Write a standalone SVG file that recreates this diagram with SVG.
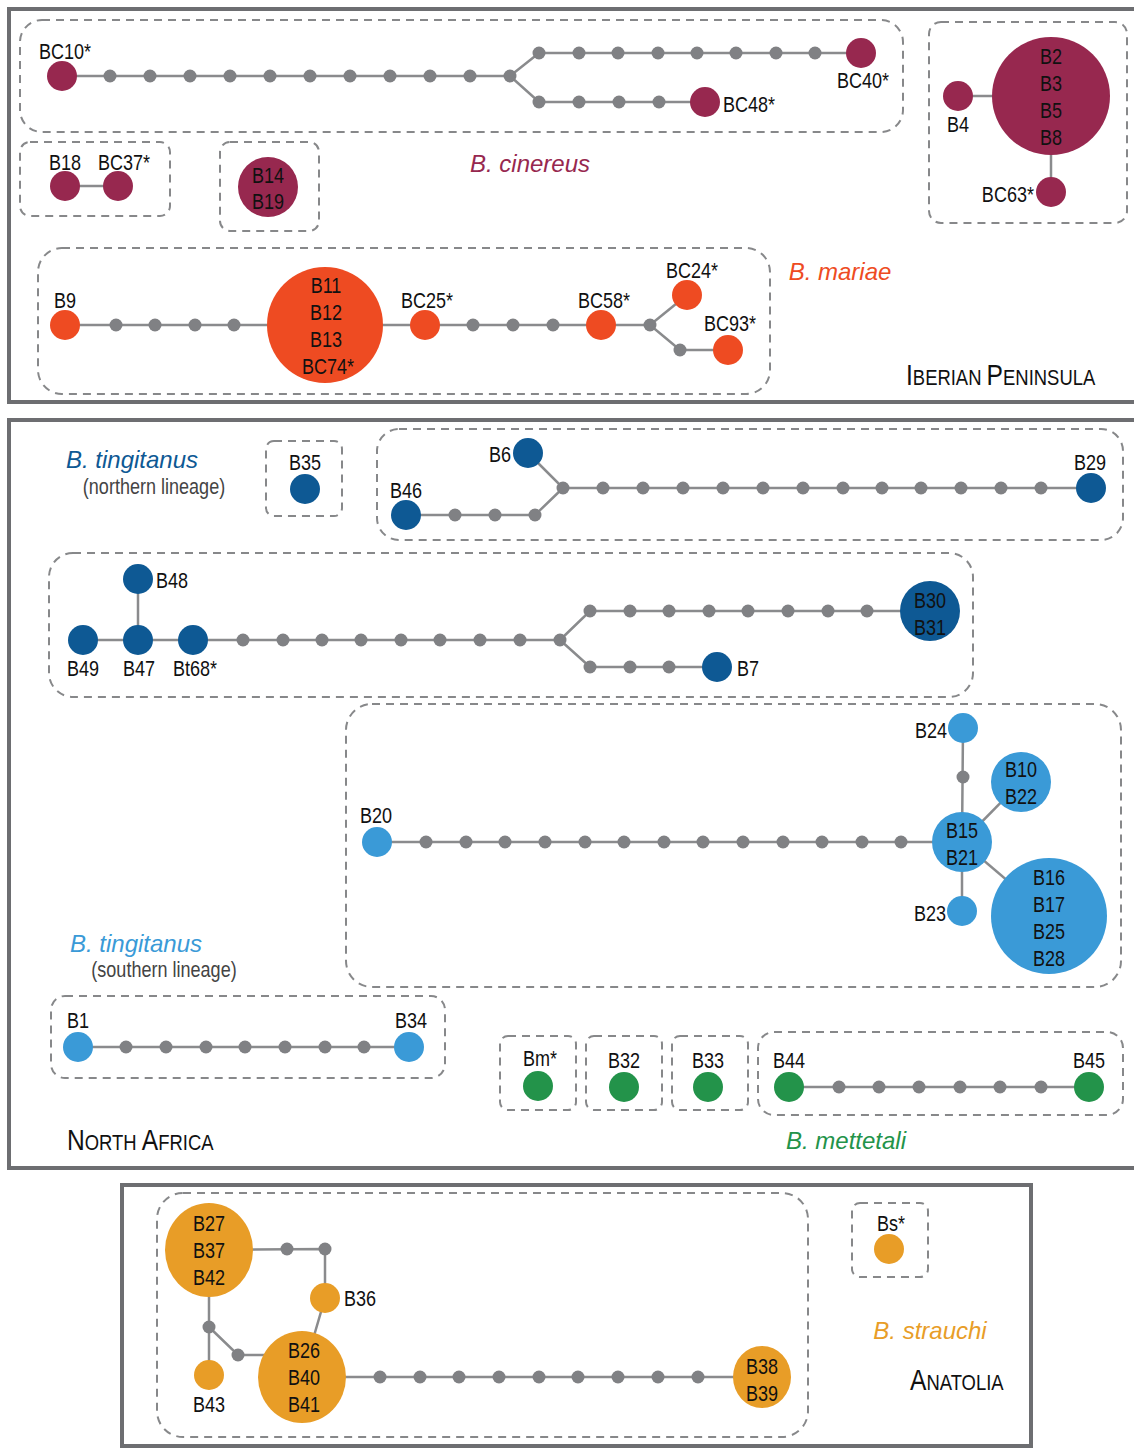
<svg xmlns="http://www.w3.org/2000/svg" width="1134" height="1448" viewBox="0 0 1134 1448">
<style>
.frame{fill:none;stroke:#6d6e71;stroke-width:4}
.dash{fill:none;stroke:#87888a;stroke-width:2;stroke-dasharray:8 6}
.e{fill:none;stroke:#8a8b8d;stroke-width:2.5}
.m{fill:#808184}
.ci{fill:#97284f}.ma{fill:#ee4b22}.tn{fill:#0e5994}.ts{fill:#3a9ad7}.me{fill:#23934a}.st{fill:#e89d27}
text{font-family:"Liberation Sans",Arial,sans-serif;font-size:22px;fill:#111;text-anchor:middle}
.sp{font-style:italic;font-size:24px}
.lin{font-size:22px;fill:#444}
.reg{font-size:30px;text-anchor:start}
.reg tspan.s{font-size:22.5px}
.st-l{text-anchor:start}.en{text-anchor:end}
</style>

<!-- frames -->
<rect class="frame" x="9" y="9" width="1140" height="393"/>
<rect class="frame" x="9" y="420" width="1140" height="748"/>
<rect class="frame" x="122" y="1185" width="909" height="261"/>

<!-- dashed groups -->
<g id="groups">
<rect class="dash" x="20" y="20" width="883" height="112" rx="22"/>
<rect class="dash" x="20" y="142" width="150" height="74" rx="10"/>
<rect class="dash" x="220" y="142" width="99" height="89" rx="10"/>
<rect class="dash" x="929" y="22" width="198" height="201" rx="12"/>
<rect class="dash" x="38" y="248" width="732" height="146" rx="24"/>
<rect class="dash" x="266" y="441" width="76" height="75" rx="8"/>
<rect class="dash" x="377" y="429" width="746" height="111" rx="22"/>
<rect class="dash" x="49" y="553" width="924" height="144" rx="24"/>
<rect class="dash" x="346" y="704" width="775" height="283" rx="26"/>
<rect class="dash" x="51" y="996" width="394" height="82" rx="14"/>
<rect class="dash" x="500" y="1036" width="76" height="74" rx="8"/>
<rect class="dash" x="586" y="1036" width="76" height="74" rx="8"/>
<rect class="dash" x="672" y="1036" width="76" height="74" rx="8"/>
<rect class="dash" x="758" y="1032" width="365" height="83" rx="16"/>
<rect class="dash" x="157" y="1193" width="651" height="244" rx="26"/>
<rect class="dash" x="852" y="1203" width="76" height="74" rx="8"/>
</g>

<!-- connectors -->
<g id="connectors">
<polyline class="e" points="62,76 510,76"/>
<polyline class="e" points="510,76 539,53 861,53"/>
<polyline class="e" points="510,76 539,102 705,102"/>
<polyline class="e" points="65,186 118,186"/>
<polyline class="e" points="958,96 1051,96"/>
<polyline class="e" points="1051,96 1051,192"/>
<polyline class="e" points="65,325 650,325"/>
<polyline class="e" points="650,325 687,295"/>
<polyline class="e" points="650,325 680,350 728,350"/>
<polyline class="e" points="528,453 563,488 1091,488"/>
<polyline class="e" points="563,488 535,515 406,515"/>
<polyline class="e" points="138,579 138,640"/>
<polyline class="e" points="83,640 560,640"/>
<polyline class="e" points="560,640 590,611 930,611"/>
<polyline class="e" points="560,640 590,667 717,667"/>
<polyline class="e" points="377,842 962,842"/>
<polyline class="e" points="963,728 962,842 962,911"/>
<polyline class="e" points="962,842 1021,782"/>
<polyline class="e" points="962,842 1049,916"/>
<polyline class="e" points="78,1047 409,1047"/>
<polyline class="e" points="789,1087 1089,1087"/>
<polyline class="e" points="209,1250 325,1249 325,1298 302,1377"/>
<polyline class="e" points="209,1250 209,1375"/>
<polyline class="e" points="209,1327 238,1355 302,1355"/>
<polyline class="e" points="302,1377 762,1377"/>
</g>

<!-- median vectors (missing haplotypes) -->
<g id="median-vectors">
<circle id="mv1" class="m" cx="110" cy="76" r="6.5"/><circle id="mv2" class="m" cx="150" cy="76" r="6.5"/><circle id="mv3" class="m" cx="190" cy="76" r="6.5"/><circle id="mv4" class="m" cx="230" cy="76" r="6.5"/><circle id="mv5" class="m" cx="270" cy="76" r="6.5"/><circle id="mv6" class="m" cx="310" cy="76" r="6.5"/><circle id="mv7" class="m" cx="350" cy="76" r="6.5"/><circle id="mv8" class="m" cx="390" cy="76" r="6.5"/><circle id="mv9" class="m" cx="430" cy="76" r="6.5"/><circle id="mv10" class="m" cx="470" cy="76" r="6.5"/><circle id="mv11" class="m" cx="510" cy="76" r="6.5"/>
<circle id="mv12" class="m" cx="539" cy="53" r="6.5"/><circle id="mv13" class="m" cx="579" cy="53" r="6.5"/><circle id="mv14" class="m" cx="618" cy="53" r="6.5"/><circle id="mv15" class="m" cx="658" cy="53" r="6.5"/><circle id="mv16" class="m" cx="697" cy="53" r="6.5"/><circle id="mv17" class="m" cx="736" cy="53" r="6.5"/><circle id="mv18" class="m" cx="776" cy="53" r="6.5"/><circle id="mv19" class="m" cx="815" cy="53" r="6.5"/>
<circle id="mv20" class="m" cx="539" cy="102" r="6.5"/><circle id="mv21" class="m" cx="579" cy="102" r="6.5"/><circle id="mv22" class="m" cx="619" cy="102" r="6.5"/><circle id="mv23" class="m" cx="659" cy="102" r="6.5"/>
<circle id="mv24" class="m" cx="116" cy="325" r="6.5"/><circle id="mv25" class="m" cx="155" cy="325" r="6.5"/><circle id="mv26" class="m" cx="195" cy="325" r="6.5"/><circle id="mv27" class="m" cx="234" cy="325" r="6.5"/>
<circle id="mv28" class="m" cx="473" cy="325" r="6.5"/><circle id="mv29" class="m" cx="513" cy="325" r="6.5"/><circle id="mv30" class="m" cx="553" cy="325" r="6.5"/><circle id="mv31" class="m" cx="650" cy="325" r="6.5"/><circle id="mv32" class="m" cx="680" cy="350" r="6.5"/>
<circle id="mv33" class="m" cx="563" cy="488" r="6.5"/><circle id="mv34" class="m" cx="535" cy="515" r="6.5"/><circle id="mv35" class="m" cx="495" cy="515" r="6.5"/><circle id="mv36" class="m" cx="455" cy="515" r="6.5"/>
<circle id="mv37" class="m" cx="603" cy="488" r="6.5"/><circle id="mv38" class="m" cx="643" cy="488" r="6.5"/><circle id="mv39" class="m" cx="683" cy="488" r="6.5"/><circle id="mv40" class="m" cx="723" cy="488" r="6.5"/><circle id="mv41" class="m" cx="763" cy="488" r="6.5"/><circle id="mv42" class="m" cx="803" cy="488" r="6.5"/><circle id="mv43" class="m" cx="843" cy="488" r="6.5"/><circle id="mv44" class="m" cx="882" cy="488" r="6.5"/><circle id="mv45" class="m" cx="921" cy="488" r="6.5"/><circle id="mv46" class="m" cx="961" cy="488" r="6.5"/><circle id="mv47" class="m" cx="1001" cy="488" r="6.5"/><circle id="mv48" class="m" cx="1041" cy="488" r="6.5"/>
<circle id="mv49" class="m" cx="243" cy="640" r="6.5"/><circle id="mv50" class="m" cx="283" cy="640" r="6.5"/><circle id="mv51" class="m" cx="322" cy="640" r="6.5"/><circle id="mv52" class="m" cx="361" cy="640" r="6.5"/><circle id="mv53" class="m" cx="401" cy="640" r="6.5"/><circle id="mv54" class="m" cx="440" cy="640" r="6.5"/><circle id="mv55" class="m" cx="480" cy="640" r="6.5"/><circle id="mv56" class="m" cx="520" cy="640" r="6.5"/><circle id="mv57" class="m" cx="560" cy="640" r="6.5"/>
<circle id="mv58" class="m" cx="590" cy="611" r="6.5"/><circle id="mv59" class="m" cx="630" cy="611" r="6.5"/><circle id="mv60" class="m" cx="669" cy="611" r="6.5"/><circle id="mv61" class="m" cx="709" cy="611" r="6.5"/><circle id="mv62" class="m" cx="748" cy="611" r="6.5"/><circle id="mv63" class="m" cx="788" cy="611" r="6.5"/><circle id="mv64" class="m" cx="828" cy="611" r="6.5"/><circle id="mv65" class="m" cx="867" cy="611" r="6.5"/>
<circle id="mv66" class="m" cx="590" cy="667" r="6.5"/><circle id="mv67" class="m" cx="630" cy="667" r="6.5"/><circle id="mv68" class="m" cx="669" cy="667" r="6.5"/>
<circle id="mv69" class="m" cx="426" cy="842" r="6.5"/><circle id="mv70" class="m" cx="466" cy="842" r="6.5"/><circle id="mv71" class="m" cx="505" cy="842" r="6.5"/><circle id="mv72" class="m" cx="545" cy="842" r="6.5"/><circle id="mv73" class="m" cx="585" cy="842" r="6.5"/><circle id="mv74" class="m" cx="624" cy="842" r="6.5"/><circle id="mv75" class="m" cx="664" cy="842" r="6.5"/><circle id="mv76" class="m" cx="703" cy="842" r="6.5"/><circle id="mv77" class="m" cx="743" cy="842" r="6.5"/><circle id="mv78" class="m" cx="783" cy="842" r="6.5"/><circle id="mv79" class="m" cx="822" cy="842" r="6.5"/><circle id="mv80" class="m" cx="862" cy="842" r="6.5"/><circle id="mv81" class="m" cx="901" cy="842" r="6.5"/>
<circle id="mv82" class="m" cx="963" cy="777" r="6.5"/>
<circle id="mv83" class="m" cx="126" cy="1047" r="6.5"/><circle id="mv84" class="m" cx="166" cy="1047" r="6.5"/><circle id="mv85" class="m" cx="206" cy="1047" r="6.5"/><circle id="mv86" class="m" cx="245" cy="1047" r="6.5"/><circle id="mv87" class="m" cx="285" cy="1047" r="6.5"/><circle id="mv88" class="m" cx="325" cy="1047" r="6.5"/><circle id="mv89" class="m" cx="364" cy="1047" r="6.5"/>
<circle id="mv90" class="m" cx="839" cy="1087" r="6.5"/><circle id="mv91" class="m" cx="879" cy="1087" r="6.5"/><circle id="mv92" class="m" cx="919" cy="1087" r="6.5"/><circle id="mv93" class="m" cx="960" cy="1087" r="6.5"/><circle id="mv94" class="m" cx="1000" cy="1087" r="6.5"/><circle id="mv95" class="m" cx="1041" cy="1087" r="6.5"/>
<circle id="mv96" class="m" cx="287" cy="1249" r="6.5"/><circle id="mv97" class="m" cx="325" cy="1249" r="6.5"/><circle id="mv98" class="m" cx="209" cy="1327" r="6.5"/><circle id="mv99" class="m" cx="238" cy="1355" r="6.5"/>
<circle id="mv100" class="m" cx="380" cy="1377" r="6.5"/><circle id="mv101" class="m" cx="420" cy="1377" r="6.5"/><circle id="mv102" class="m" cx="459" cy="1377" r="6.5"/><circle id="mv103" class="m" cx="499" cy="1377" r="6.5"/><circle id="mv104" class="m" cx="539" cy="1377" r="6.5"/><circle id="mv105" class="m" cx="578" cy="1377" r="6.5"/><circle id="mv106" class="m" cx="618" cy="1377" r="6.5"/><circle id="mv107" class="m" cx="658" cy="1377" r="6.5"/><circle id="mv108" class="m" cx="698" cy="1377" r="6.5"/>
</g>

<!-- Iberian: B. cinereus -->
<g id="BC10"><circle class="ci" cx="62" cy="76" r="15"/><text transform="translate(65 59) scale(.82 1)">BC10*</text></g>
<g id="BC40"><circle class="ci" cx="861" cy="53" r="15"/><text transform="translate(863 88) scale(.82 1)">BC40*</text></g>
<g id="BC48"><circle class="ci" cx="705" cy="102" r="15"/><text class="st-l" transform="translate(723 112) scale(.82 1)">BC48*</text></g>
<g id="B18"><circle class="ci" cx="65" cy="186" r="15"/><text transform="translate(65 170) scale(.82 1)">B18</text></g>
<g id="BC37"><circle class="ci" cx="118" cy="186" r="15"/><text transform="translate(124 170) scale(.82 1)">BC37*</text></g>
<g id="B14-B19"><circle class="ci" cx="268" cy="187" r="30"/><text transform="translate(268 183) scale(.82 1)">B14</text><text transform="translate(268 209) scale(.82 1)">B19</text></g>
<g id="B4"><circle class="ci" cx="958" cy="96" r="15"/><text transform="translate(958 132) scale(.82 1)">B4</text></g>
<g id="B2-B8"><circle class="ci" cx="1051" cy="96" r="59"/><text transform="translate(1051 64) scale(.82 1)">B2</text><text transform="translate(1051 91) scale(.82 1)">B3</text><text transform="translate(1051 118) scale(.82 1)">B5</text><text transform="translate(1051 145) scale(.82 1)">B8</text></g>
<g id="BC63"><circle class="ci" cx="1051" cy="192" r="15"/><text class="en" transform="translate(1034 202) scale(.82 1)">BC63*</text></g>
<text class="sp" x="530" y="172" style="fill:#97284f">B. cinereus</text>

<!-- Iberian: B. mariae -->
<g id="B9"><circle class="ma" cx="65" cy="325" r="15"/><text transform="translate(65 308) scale(.82 1)">B9</text></g>
<g id="B11-BC74"><circle class="ma" cx="325" cy="325" r="58"/><text transform="translate(326 293) scale(.82 1)">B11</text><text transform="translate(326 320) scale(.82 1)">B12</text><text transform="translate(326 347) scale(.82 1)">B13</text><text transform="translate(328 374) scale(.82 1)">BC74*</text></g>
<g id="BC25"><circle class="ma" cx="425" cy="325" r="15"/><text transform="translate(427 308) scale(.82 1)">BC25*</text></g>
<g id="BC58"><circle class="ma" cx="601" cy="325" r="15"/><text transform="translate(604 308) scale(.82 1)">BC58*</text></g>
<g id="BC24"><circle class="ma" cx="687" cy="295" r="15"/><text transform="translate(692 278) scale(.82 1)">BC24*</text></g>
<g id="BC93"><circle class="ma" cx="728" cy="350" r="15"/><text transform="translate(730 331) scale(.82 1)">BC93*</text></g>
<text class="sp" x="840" y="280" style="fill:#ee4b22">B. mariae</text>
<text class="reg" transform="translate(906 385) scale(.82 1)">I<tspan class="s">BERIAN </tspan>P<tspan class="s">ENINSULA</tspan></text>

<!-- North Africa: tingitanus northern -->
<text class="sp" x="132" y="468" style="fill:#0e5994">B. tingitanus</text>
<text class="lin" transform="translate(154 494) scale(.82 1)">(northern lineage)</text>
<g id="B35"><circle class="tn" cx="305" cy="489" r="15"/><text transform="translate(305 470) scale(.82 1)">B35</text></g>
<g id="B6"><circle class="tn" cx="528" cy="453" r="15"/><text class="en" transform="translate(511 462) scale(.82 1)">B6</text></g>
<g id="B46"><circle class="tn" cx="406" cy="515" r="15"/><text transform="translate(406 498) scale(.82 1)">B46</text></g>
<g id="B29"><circle class="tn" cx="1091" cy="488" r="15"/><text transform="translate(1090 470) scale(.82 1)">B29</text></g>
<g id="B48"><circle class="tn" cx="138" cy="579" r="15"/><text class="st-l" transform="translate(156 588) scale(.82 1)">B48</text></g>
<g id="B49"><circle class="tn" cx="83" cy="640" r="15"/><text transform="translate(83 676) scale(.82 1)">B49</text></g>
<g id="B47"><circle class="tn" cx="138" cy="640" r="15"/><text transform="translate(139 676) scale(.82 1)">B47</text></g>
<g id="Bt68"><circle class="tn" cx="193" cy="640" r="15"/><text transform="translate(195 676) scale(.82 1)">Bt68*</text></g>
<g id="B30-B31"><circle class="tn" cx="930" cy="611" r="30"/><text transform="translate(930 608) scale(.82 1)">B30</text><text transform="translate(930 635) scale(.82 1)">B31</text></g>
<g id="B7"><circle class="tn" cx="717" cy="667" r="15"/><text class="st-l" transform="translate(737 676) scale(.82 1)">B7</text></g>

<!-- North Africa: tingitanus southern -->
<g id="B20"><circle class="ts" cx="377" cy="842" r="15"/><text transform="translate(376 823) scale(.82 1)">B20</text></g>
<g id="B24"><circle class="ts" cx="963" cy="728" r="15"/><text class="en" transform="translate(947 738) scale(.82 1)">B24</text></g>
<g id="B10-B22"><circle class="ts" cx="1021" cy="782" r="30"/><text transform="translate(1021 777) scale(.82 1)">B10</text><text transform="translate(1021 804) scale(.82 1)">B22</text></g>
<g id="B15-B21"><circle class="ts" cx="962" cy="842" r="30"/><text transform="translate(962 838) scale(.82 1)">B15</text><text transform="translate(962 865) scale(.82 1)">B21</text></g>
<g id="B23"><circle class="ts" cx="962" cy="911" r="15"/><text class="en" transform="translate(946 921) scale(.82 1)">B23</text></g>
<g id="B16-B28"><circle class="ts" cx="1049" cy="916" r="58"/><text transform="translate(1049 885) scale(.82 1)">B16</text><text transform="translate(1049 912) scale(.82 1)">B17</text><text transform="translate(1049 939) scale(.82 1)">B25</text><text transform="translate(1049 966) scale(.82 1)">B28</text></g>
<text class="sp" x="136" y="952" style="fill:#3a9ad7">B. tingitanus</text>
<text class="lin" transform="translate(164 977) scale(.82 1)">(southern lineage)</text>
<g id="B1"><circle class="ts" cx="78" cy="1047" r="15"/><text transform="translate(78 1028) scale(.82 1)">B1</text></g>
<g id="B34"><circle class="ts" cx="409" cy="1047" r="15"/><text transform="translate(411 1028) scale(.82 1)">B34</text></g>
<text class="reg" transform="translate(67 1150) scale(.82 1)">N<tspan class="s">ORTH </tspan>A<tspan class="s">FRICA</tspan></text>

<!-- North Africa: mettetali -->
<g id="Bm"><circle class="me" cx="538" cy="1086" r="15"/><text transform="translate(540 1066) scale(.82 1)">Bm*</text></g>
<g id="B32"><circle class="me" cx="624" cy="1087" r="15"/><text transform="translate(624 1068) scale(.82 1)">B32</text></g>
<g id="B33"><circle class="me" cx="708" cy="1087" r="15"/><text transform="translate(708 1068) scale(.82 1)">B33</text></g>
<g id="B44"><circle class="me" cx="789" cy="1087" r="15"/><text transform="translate(789 1068) scale(.82 1)">B44</text></g>
<g id="B45"><circle class="me" cx="1089" cy="1087" r="15"/><text transform="translate(1089 1068) scale(.82 1)">B45</text></g>
<text class="sp" x="846" y="1149" style="fill:#23934a">B. mettetali</text>

<!-- Anatolia: strauchi -->
<g id="B27-B42"><ellipse class="st" cx="209" cy="1250" rx="44" ry="47"/><text transform="translate(209 1231) scale(.82 1)">B27</text><text transform="translate(209 1258) scale(.82 1)">B37</text><text transform="translate(209 1285) scale(.82 1)">B42</text></g>
<g id="B36"><circle class="st" cx="325" cy="1298" r="15"/><text class="st-l" transform="translate(344 1306) scale(.82 1)">B36</text></g>
<g id="B43"><circle class="st" cx="209" cy="1375" r="15"/><text transform="translate(209 1412) scale(.82 1)">B43</text></g>
<g id="B26-B41"><ellipse class="st" cx="302" cy="1377" rx="44" ry="46"/><text transform="translate(304 1358) scale(.82 1)">B26</text><text transform="translate(304 1385) scale(.82 1)">B40</text><text transform="translate(304 1412) scale(.82 1)">B41</text></g>
<g id="B38-B39"><ellipse class="st" cx="762" cy="1377" rx="29" ry="31"/><text transform="translate(762 1374) scale(.82 1)">B38</text><text transform="translate(762 1401) scale(.82 1)">B39</text></g>
<g id="Bs"><circle class="st" cx="889" cy="1249" r="15"/><text transform="translate(891 1231) scale(.82 1)">Bs*</text></g>
<text class="sp" x="930" y="1339" style="fill:#e89d27">B. strauchi</text>
<text class="reg" transform="translate(910 1390) scale(.82 1)">A<tspan class="s">NATOLIA</tspan></text>
</svg>
